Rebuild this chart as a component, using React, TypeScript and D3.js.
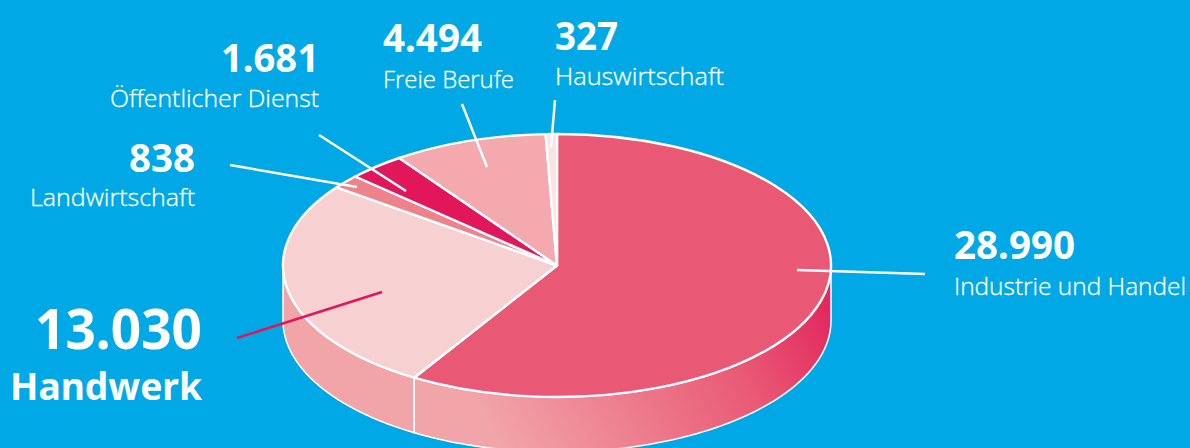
import React from "react";
import * as d3 from "d3";

const sectors = ["Industrie und Handel", "Handwerk", "Landwirtschaft", "Öffentlicher Dienst", "Freie Berufe", "Hauswirtschaft"];
const values = [28990, 13030, 838, 1681, 4494, 327];
const valueLabels = ["28.990", "13.030", "838", "1.681", "4.494", "327"];
const topColors = ["#E95975", "#F7D1D1", "#EE828C", "#E2175B", "#F3A9AD", "#FBE3E3"];

// label layout, same order as sectors
const anchors = ["start", "end", "end", "end", "start", "start"];
const labelX = [954, 202, 195, 319, 383, 555];
const valueY = [259, 349, 172, 72, 52, 50];
const nameY = [295, 400, 206, 107, 88, 85];
const valueSize = [40, 56, 40, 40, 40, 40];
const nameSize = [24, 37, 24, 24, 24, 24];
const valueWidth = [121, 167, 66, 98, 99, 63];
const nameWidth = [232, 192, 165, 209, 131, 169];
const leaders = [
  [[797, 270], [925, 274]],
  [[382, 292], [237, 338]],
  [[357, 187], [230, 165]],
  [[406, 191], [319, 135]],
  [[487, 167], [462, 104]],
  [[551, 147], [555, 100]],
];

const width = 1190;
const height = 448;
const cx = 557;
const cy = 265.5;
const rx = 274;
const ry = 131.5;
const depth = 55;

const App = () => {
  const pie = d3.pie<number>().sort(null).value((d) => d);
  const slices = pie(values);
  const arc = d3.arc<d3.PieArcDatum<number>>().innerRadius(0).outerRadius(rx);

  // side wall of the disc between two pie angles
  const wall = (a0: number, a1: number) => {
    const area = d3
      .area<number>()
      .x((a) => cx + rx * Math.sin(a))
      .y0((a) => cy - ry * Math.cos(a))
      .y1((a) => cy - ry * Math.cos(a) + depth);
    return area(d3.range(a0, a1, 0.01).concat(a1));
  };

  const a1 = slices[0].endAngle;

  return (
    <svg width={width} height={height} style={{ position: "fixed", left: 0, top: 0, display: "block" }}>
      <defs>
        <linearGradient id="wallFade" gradientUnits="userSpaceOnUse" x1="825" y1="300" x2="510" y2="470">
          <stop offset="0" stopColor="#E2285F" />
          <stop offset="0.3" stopColor="#E95975" />
          <stop offset="1" stopColor="#F2A5A9" />
        </linearGradient>
      </defs>
      <rect width={width} height={height} fill="#00A9E6" />

      <path d={wall(Math.PI / 2, a1) ?? ""} fill="url(#wallFade)" stroke="#fff" strokeWidth={1.5} />
      <path d={wall(a1, Math.PI * 1.5) ?? ""} fill="#F2A5A9" stroke="#fff" strokeWidth={1.5} />

      <g transform={`translate(${cx},${cy}) scale(1,${ry / rx})`}>
        {slices.map((s, i) => (
          <path
            key={sectors[i]}
            d={arc(s) ?? ""}
            fill={topColors[i]}
            stroke="#fff"
            strokeWidth={2.4}
            strokeLinejoin="round"
            vectorEffect="non-scaling-stroke"
          />
        ))}
      </g>

      {leaders.map((pts, i) => (
        <path
          key={i}
          d={d3.line()(pts as [number, number][]) ?? ""}
          fill="none"
          stroke={i === 1 ? "#E2175B" : "#fff"}
          strokeWidth={2.5}
        />
      ))}

      {sectors.map((name, i) => (
        <g key={name} fill="#fff" textAnchor={anchors[i]}>
          <text
            x={labelX[i]}
            y={valueY[i]}
            fontFamily="'Noto Sans', sans-serif"
            fontSize={valueSize[i]}
            fontWeight={700}
            textLength={valueWidth[i]}
            lengthAdjust="spacingAndGlyphs"
          >
            {valueLabels[i]}
          </text>
          <text
            x={labelX[i]}
            y={nameY[i]}
            fontFamily={i === 1 ? "'Noto Sans', sans-serif" : "'Open Sans', 'Noto Sans', sans-serif"}
            fontSize={nameSize[i]}
            fontWeight={i === 1 ? 700 : 300}
            stroke={i === 1 ? "none" : "#fff"}
            strokeWidth={0.3}
            textLength={nameWidth[i]}
            lengthAdjust="spacingAndGlyphs"
          >
            {name}
          </text>
        </g>
      ))}
    </svg>
  );
};

export default App;
